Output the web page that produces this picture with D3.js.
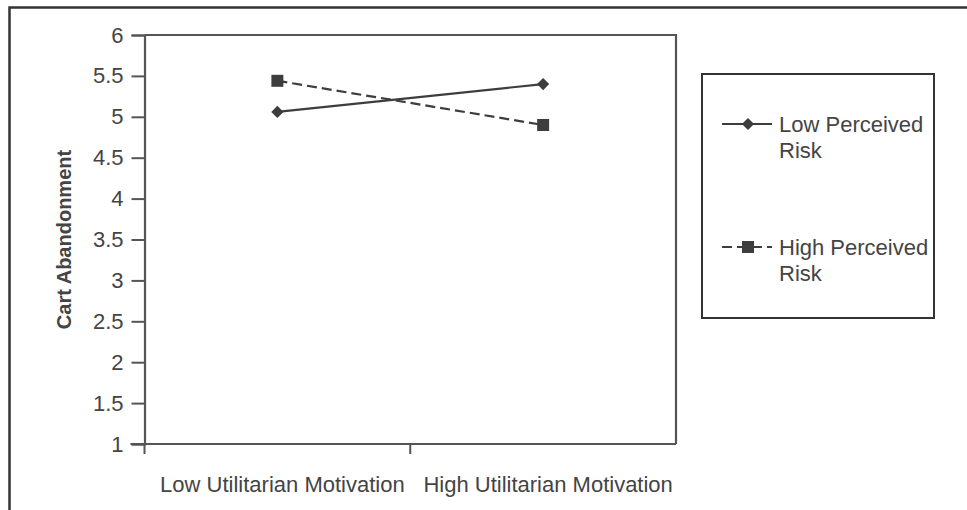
<!DOCTYPE html>
<html><head><meta charset="utf-8">
<script src="https://cdn.jsdelivr.net/npm/d3@7"></script>
<style>body{margin:0;background:#fff}svg{display:block}text{font-family:"Liberation Sans",Arial,sans-serif;fill:#444}</style>
</head><body><svg id="c" width="967" height="510"></svg>
<script>
const categories = ["Low Utilitarian Motivation", "High Utilitarian Motivation"];
const lowRisk = [5.06, 5.40];
const highRisk = [5.44, 4.90];
const yTicks = [1, 1.5, 2, 2.5, 3, 3.5, 4, 4.5, 5, 5.5, 6];
const seriesNames = [["Low Perceived", "Risk"], ["High Perceived", "Risk"]];

const svg = d3.select("#c");
const col = "#3d3d3d";
const fs = 22;
// outer frame
svg.append("path").attr("d", "M9.5,520V7.5H980").attr("fill","none").attr("stroke","#333").attr("stroke-width",2.5);

const L = 144.5, R = 676, T = 35, B = 444;
const x = d3.scaleBand().domain(categories).range([L, R]);
const y = d3.scaleLinear().domain([1, 6]).range([B, T]);

svg.append("path").attr("d", `M${L},${T}H${R}V${B}`).attr("fill","none").attr("stroke","#555").attr("stroke-width",2.2);

const ya = svg.append("g").attr("transform", `translate(${L},0)`)
  .call(d3.axisLeft(y).tickValues(yTicks).tickSize(13).tickPadding(8).tickFormat(d3.format("")));
ya.select(".domain").attr("stroke","#555").attr("stroke-width",2.2);
ya.selectAll(".tick line").attr("stroke","#555").attr("stroke-width",2);
ya.selectAll(".tick text").style("font-size", fs+"px").attr("fill","#444").attr("font-family",null);

const xa = svg.append("g").attr("transform", `translate(0,${B})`)
  .call(d3.axisBottom(x).tickSize(0).tickPadding(32));
xa.select(".domain").remove();
xa.selectAll(".tick text").style("font-size", fs+"px").attr("fill","#444").attr("font-family",null).attr("dx", 5);
svg.append("line").attr("x1", L-14).attr("x2", R).attr("y1", B).attr("y2", B).attr("stroke","#555").attr("stroke-width",2.2);
[L, x(categories[1])].forEach(v => svg.append("line").attr("x1", v).attr("x2", v).attr("y1", B).attr("y2", B+10).attr("stroke","#555").attr("stroke-width",2));

svg.append("text").attr("transform", `translate(71,${(T+B)/2}) rotate(-90)`).attr("text-anchor","middle")
  .style("font-size", "20px").style("font-weight","bold").text("Cart Abandonment");

const cx = d => x(d) + x.bandwidth()/2;
const line = d3.line().x((d,i) => cx(categories[i])).y(d => y(d));
svg.append("path").attr("d", line(lowRisk)).attr("fill","none").attr("stroke",col).attr("stroke-width",2.2);
svg.append("path").attr("d", line(highRisk)).attr("fill","none").attr("stroke",col).attr("stroke-width",2.2).attr("stroke-dasharray","10,5");

const diamond = d3.symbol().type(d3.symbolDiamond2).size(95);
const square = d3.symbol().type(d3.symbolSquare).size(144);
lowRisk.forEach((v,i) => svg.append("path").attr("d", diamond()).attr("transform", `translate(${cx(categories[i])},${y(v)})`).attr("fill",col));
highRisk.forEach((v,i) => svg.append("path").attr("d", square()).attr("transform", `translate(${cx(categories[i])},${y(v)})`).attr("fill",col));

// legend
svg.append("rect").attr("x",702).attr("y",74).attr("width",232).attr("height",244).attr("fill","none").attr("stroke","#333").attr("stroke-width",2);
const lg = [{y:124, dash:null, sym:diamond}, {y:247, dash:"10,5", sym:square}];
lg.forEach((d,i) => {
  svg.append("line").attr("x1",722).attr("x2",772).attr("y1",d.y).attr("y2",d.y).attr("stroke",col).attr("stroke-width",2.2).attr("stroke-dasharray", d.dash);
  svg.append("path").attr("d", d.sym()).attr("transform",`translate(748,${d.y})`).attr("fill",col);
  const t = svg.append("text").attr("x",779).attr("y",d.y+8).style("font-size",fs+"px");
  t.append("tspan").attr("x",779).text(seriesNames[i][0]);
  t.append("tspan").attr("x",779).attr("dy",26).text(seriesNames[i][1]);
});
</script></body></html>
